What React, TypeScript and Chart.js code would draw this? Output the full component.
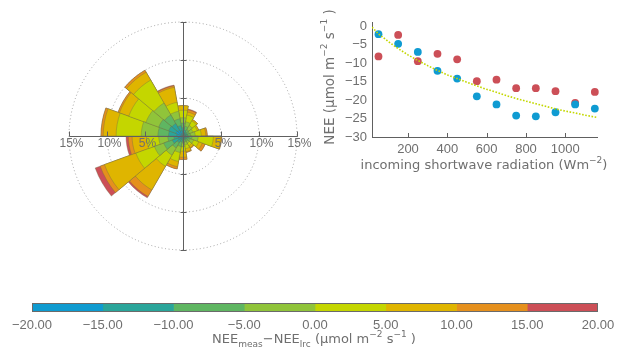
import React, { useEffect, useRef } from 'react';
import { Chart, registerables } from 'chart.js';

Chart.register(...registerables);

const TEXT = '#6f6f6f';
const AXIS = '#606060';
const TICK_FONT = "'Liberation Sans', Arial, sans-serif";
const TITLE_FONT = "'DejaVu Sans', Verdana, sans-serif";

// ---------- wind rose: 18 sectors (compass centre), frequency (%) per NEE-difference class
const roseSectors = ['0°', '20°', '40°', '60°', '80°', '100°', '120°', '140°', '160°', '180°', '200°', '220°', '240°', '260°', '280°', '300°', '320°', '340°'];
const roseBlue = [0.5, 0.4, 0.3, 0.3, 0.3, 0.4, 0.3, 0.3, 0.3, 0.3, 0.4, 0.5, 0.7, 0.6, 0.8, 1.0, 0.9, 0.7];
const roseTeal = [0.6, 0.4, 0.3, 0.3, 0.3, 0.4, 0.3, 0.2, 0.2, 0.3, 0.4, 0.5, 0.8, 0.6, 1.1, 1.0, 1.0, 0.7];
const roseGreen = [0.6, 0.5, 0.4, 0.3, 0.4, 0.4, 0.4, 0.3, 0.3, 0.3, 0.6, 0.8, 1.2, 0.8, 1.4, 1.4, 1.3, 0.9];
const roseLightGreen = [0.7, 0.6, 0.6, 0.5, 0.6, 0.8, 0.5, 0.3, 0.4, 0.5, 0.8, 1.1, 1.3, 1.2, 2.2, 1.8, 1.8, 1.0];
const roseYellowGreen = [1.0, 0.9, 0.7, 0.6, 0.8, 2.0, 0.7, 0.4, 0.5, 0.6, 1.2, 1.7, 2.6, 1.6, 3.3, 2.4, 3.5, 1.2];
const roseYellow = [0.6, 0.4, 0.2, 0.2, 0.6, 1.0, 0.5, 0.3, 0.4, 0.8, 0.7, 3.6, 4.4, 1.9, 1.7, 1.3, 1.2, 2.0];
const roseOrange = [0.0, 0.3, 0.0, 0.0, 0.2, 0.1, 0.4, 0.1, 0.1, 0.3, 0.3, 1.0, 0.6, 0.5, 0.3, 0.2, 0.3, 0.2];
const roseRed = [0.0, 0.1, 0.0, 0.0, 0.0, 0.0, 0.0, 0.0, 0.0, 0.0, 0.0, 0.2, 0.7, 0.3, 0.0, 0.0, 0.0, 0.1];
const roseClassBands = [roseBlue, roseTeal, roseGreen, roseLightGreen, roseYellowGreen, roseYellow, roseOrange, roseRed];
const roseRings = [5, 10, 15];
const roseMax = 15;

// ---------- colour classes (NEE_meas - NEE_lrc)
const classEdges = [-20, -15, -10, -5, 0, 5, 10, 15, 20];
const classColors = ['#0f9bd0', '#2aa59a', '#5fb662', '#90c43a', '#c4d600', '#dfb500', '#e5901d', '#cc4f57'];

// ---------- light response scatter
const radBins = [50, 150, 250, 350, 450, 550, 650, 750, 850, 950, 1050, 1150];
const neeBlue = [-2.2, -4.8, -7.0, -12.1, -14.2, -19.0, -21.2, -24.2, -24.4, -23.3, -21.2, -22.3];
const neeRed = [-8.2, -2.4, -9.5, -7.5, -9.0, -14.9, -14.5, -16.8, -16.8, -17.6, -20.8, -17.8];
const lrcX = [17, 50, 100, 150, 200, 250, 300, 350, 400, 450, 500, 550, 600, 650, 700, 750, 800, 850, 900, 950, 1000, 1050, 1100, 1150, 1161];
const lrcY = [-0.3, -2.1, -4.2, -6.1, -7.8, -9.3, -10.7, -12.0, -13.2, -14.2, -15.2, -16.2, -17.1, -17.9, -18.8, -19.6, -20.3, -21.0, -21.7, -22.4, -23.0, -23.5, -24.1, -24.6, -24.7];
const scatterXTicks = [200, 400, 600, 800, 1000];
const scatterYTicks = [0, -5, -10, -15, -20, -25, -30];
const scatterXRange = [17, 1161];
const scatterYRange = [-30, 1.1];
const colorbarTicks = [-20, -15, -10, -5, 0, 5, 10, 15, 20];

type Part = { t: string; s?: 'sub' | 'sup' };
const scatterYTitle: Part[] = [{ t: 'NEE (\u03bcmol m' }, { t: '\u22122', s: 'sup' }, { t: ' s' }, { t: '\u22121', s: 'sup' }, { t: ' )' }];
const scatterXTitle: Part[] = [{ t: 'incoming shortwave radiation (Wm' }, { t: '\u22122', s: 'sup' }, { t: ')' }];
const colorbarTitle: Part[] = [{ t: 'NEE' }, { t: 'meas', s: 'sub' }, { t: '\u2212NEE' }, { t: 'lrc', s: 'sub' }, { t: ' (\u03bcmol m' }, { t: '\u22122', s: 'sup' }, { t: ' s' }, { t: '\u22121', s: 'sup' }, { t: ' )' }];

const fmtMinus = (v: number) => (v < 0 ? '\u2212' + Math.abs(v) : String(v));
const fmt2 = (v: number) => (v < 0 ? '\u2212' + Math.abs(v).toFixed(2) : v.toFixed(2));

function drawRich(ctx: CanvasRenderingContext2D, parts: Part[], x: number, y: number, size: number, rotate = 0) {
  ctx.save();
  ctx.translate(x, y);
  if (rotate) ctx.rotate(rotate);
  const small = Math.round(size * 0.7);
  const widths = parts.map((p) => {
    ctx.font = `${p.s ? small : size}px ${TITLE_FONT}`;
    return ctx.measureText(p.t).width;
  });
  const total = widths.reduce((a, b) => a + b, 0);
  let cx = -total / 2;
  ctx.fillStyle = TEXT;
  ctx.textBaseline = 'alphabetic';
  ctx.textAlign = 'left';
  parts.forEach((p, i) => {
    ctx.font = `${p.s ? small : size}px ${TITLE_FONT}`;
    const dy = p.s === 'sup' ? -size * 0.45 : p.s === 'sub' ? size * 0.3 : 0;
    ctx.fillText(p.t, cx, dy);
    cx += widths[i];
  });
  ctx.restore();
}

export default function App() {
  const roseRef = useRef<HTMLCanvasElement>(null);
  const scatRef = useRef<HTMLCanvasElement>(null);
  const barRef = useRef<HTMLCanvasElement>(null);

  useEffect(() => {
    const charts: Chart[] = [];

    // ---------------- wind rose
    const cumulative = roseClassBands.map((_, k) =>
      roseSectors.map((_, i) => Math.round(roseClassBands.slice(0, k + 1).reduce((s, arr) => s + arr[i], 0) * 100) / 100)
    );
    const roseAxes = {
      id: 'roseAxes',
      afterDatasetsDraw(chart: any) {
        const s = chart.scales.r;
        const ctx: CanvasRenderingContext2D = chart.ctx;
        const cx = Math.round(s.xCenter) + 0.5;
        const cy = Math.round(s.yCenter) + 0.5;
        const R = s.getDistanceFromCenterForValue(roseMax);
        ctx.save();
        ctx.strokeStyle = AXIS;
        ctx.lineWidth = 1;
        ctx.beginPath();
        ctx.moveTo(cx - R, cy);
        ctx.lineTo(cx + R, cy);
        ctx.moveTo(cx, cy - R);
        ctx.lineTo(cx, cy + R);
        roseRings.forEach((v) => {
          const d = Math.round(s.getDistanceFromCenterForValue(v));
          ctx.moveTo(cx - d, cy);
          ctx.lineTo(cx - d, cy - 5);
          ctx.moveTo(cx + d, cy);
          ctx.lineTo(cx + d, cy - 5);
          ctx.moveTo(cx - 3, cy - d);
          ctx.lineTo(cx + 3, cy - d);
          ctx.moveTo(cx - 3, cy + d);
          ctx.lineTo(cx + 3, cy + d);
        });
        ctx.stroke();
        ctx.fillStyle = TEXT;
        ctx.font = `12px ${TICK_FONT}`;
        ctx.textAlign = 'center';
        ctx.textBaseline = 'top';
        roseRings.forEach((v) => {
          const d = s.getDistanceFromCenterForValue(v);
          ctx.fillText(`${v}%`, cx - d + 2, cy + 1);
          ctx.fillText(`${v}%`, cx + d + 2, cy + 1);
        });
        ctx.restore();
      },
    };
    charts.push(
      new Chart(roseRef.current!, {
        type: 'polarArea',
        data: {
          labels: roseSectors,
          datasets: cumulative.map((vals, k) => ({
            label: `${classEdges[k]}..${classEdges[k + 1]}`,
            data: vals,
            backgroundColor: classColors[k],
            borderColor: 'rgba(110,110,70,0.75)',
            borderWidth: 0.5,
          })),
        },
        options: {
          animation: false,
          responsive: false,
          layout: { padding: 21 },
          plugins: { legend: { display: false }, tooltip: { enabled: false } },
          scales: {
            r: {
              min: 0,
              max: roseMax,
              startAngle: -10,
              ticks: { display: false, stepSize: 5 },
              grid: { circular: true, color: '#a0a0a0', lineWidth: 1 },
              border: { dash: [1, 2.5] },
              angleLines: { display: false },
              pointLabels: { display: false },
            },
          },
        } as any,
        plugins: [roseAxes],
      })
    );

    // ---------------- scatter
    const scatterDecor = {
      id: 'scatterDecor',
      afterDraw(chart: any) {
        const ctx: CanvasRenderingContext2D = chart.ctx;
        const xs = chart.scales.x;
        const a = chart.chartArea;
        ctx.save();
        ctx.strokeStyle = AXIS;
        ctx.lineWidth = 1;
        ctx.beginPath();
        scatterXTicks.forEach((v) => {
          const px = Math.round(xs.getPixelForValue(v)) + 0.5;
          ctx.moveTo(px, a.bottom);
          ctx.lineTo(px, a.bottom - 4);
        });
        ctx.stroke();
        ctx.restore();
        drawRich(ctx, scatterXTitle, 169, 169, 13);
        drawRich(ctx, scatterYTitle, 18.5, 77, 13.5, -Math.PI / 2);
      },
    };
    const tickFont = { family: TICK_FONT, size: 13 };
    charts.push(
      new Chart(scatRef.current!, {
        type: 'scatter',
        data: {
          datasets: [
            {
              type: 'line',
              data: lrcX.map((x, i) => ({ x, y: lrcY[i] })),
              borderColor: '#c3d700',
              borderWidth: 1.6,
              borderDash: [1.6, 1.6],
              pointRadius: 0,
              fill: false,
              tension: 0,
            },
            {
              data: radBins.map((x, i) => ({ x, y: neeBlue[i] })),
              backgroundColor: '#0f9bd2',
              borderWidth: 0,
              pointRadius: 3.9,
              clip: 8,
            },
            {
              data: radBins.map((x, i) => ({ x, y: neeRed[i] })),
              backgroundColor: '#cc4f57',
              borderWidth: 0,
              pointRadius: 3.9,
              clip: 8,
            },
          ] as any,
        },
        options: {
          animation: false,
          responsive: false,
          layout: { padding: { left: 0, right: 24, top: 22, bottom: 0 } },
          plugins: { legend: { display: false }, tooltip: { enabled: false } },
          scales: {
            x: {
              type: 'linear',
              min: scatterXRange[0],
              max: scatterXRange[1],
              grid: { display: false, drawTicks: false },
              border: { display: true, color: AXIS, width: 1 },
              ticks: { font: tickFont, color: TEXT, padding: 5, maxRotation: 0, autoSkip: false, callback: (v: any) => String(v) },
              afterBuildTicks: (s: any) => {
                s.ticks = scatterXTicks.map((v) => ({ value: v }));
              },
              afterFit: (s: any) => {
                s.height = 43;
              },
            },
            y: {
              type: 'linear',
              min: scatterYRange[0],
              max: scatterYRange[1],
              grid: { display: false, drawTicks: false },
              border: { display: true, color: AXIS, width: 1 },
              ticks: { font: tickFont, color: TEXT, padding: 5, autoSkip: false, callback: (v: any) => fmtMinus(Number(v)) },
              afterBuildTicks: (s: any) => {
                s.ticks = scatterYTicks.map((v) => ({ value: v }));
              },
              afterFit: (s: any) => {
                s.width = 57;
              },
            },
          },
        } as any,
        plugins: [scatterDecor],
      })
    );

    // ---------------- colour bar
    const barDecor = {
      id: 'barDecor',
      afterDatasetsDraw(chart: any) {
        const ctx: CanvasRenderingContext2D = chart.ctx;
        const a = chart.chartArea;
        ctx.save();
        ctx.strokeStyle = '#6a6a6a';
        ctx.lineWidth = 1;
        ctx.strokeRect(Math.round(a.left) + 0.5, Math.round(a.top) + 0.5, Math.round(a.right - a.left) - 1, Math.round(a.bottom - a.top) - 1);
        ctx.restore();
        drawRich(ctx, colorbarTitle, 314, 53, 13);
      },
    };
    charts.push(
      new Chart(barRef.current!, {
        type: 'bar',
        data: {
          labels: ['class'],
          datasets: classColors.map((c, i) => ({
            data: [[classEdges[i], classEdges[i + 1]]],
            backgroundColor: c,
            borderWidth: 0,
            grouped: false,
            barPercentage: 1,
            categoryPercentage: 1,
          })) as any,
        },
        options: {
          indexAxis: 'y',
          animation: false,
          responsive: false,
          layout: { padding: { left: 32, right: 23, top: 13, bottom: 0 } },
          plugins: { legend: { display: false }, tooltip: { enabled: false } },
          scales: {
            x: {
              type: 'linear',
              min: classEdges[0],
              max: classEdges[classEdges.length - 1],
              grid: { display: false, drawTicks: false },
              border: { display: false },
              ticks: { font: tickFont, color: TEXT, padding: 6, maxRotation: 0, autoSkip: false, callback: (v: any) => fmt2(Number(v)) },
              afterBuildTicks: (s: any) => {
                s.ticks = colorbarTicks.map((v) => ({ value: v }));
              },
              afterFit: (s: any) => {
                s.height = 35;
              },
            },
            y: { display: false },
          },
        } as any,
        plugins: [barDecor],
      })
    );

    return () => charts.forEach((c) => c.destroy());
  }, []);

  return (
    <div style={{ position: 'absolute', left: 0, top: 0, width: 621, height: 347, background: '#fff', overflow: 'hidden' }}>
      <canvas ref={roseRef} width={270} height={270} style={{ position: 'absolute', left: 48, top: 1 }} />
      <canvas ref={scatRef} width={306} height={180} style={{ position: 'absolute', left: 315, top: 0 }} />
      <canvas ref={barRef} width={621} height={57} style={{ position: 'absolute', left: 0, top: 290 }} />
    </div>
  );
}
